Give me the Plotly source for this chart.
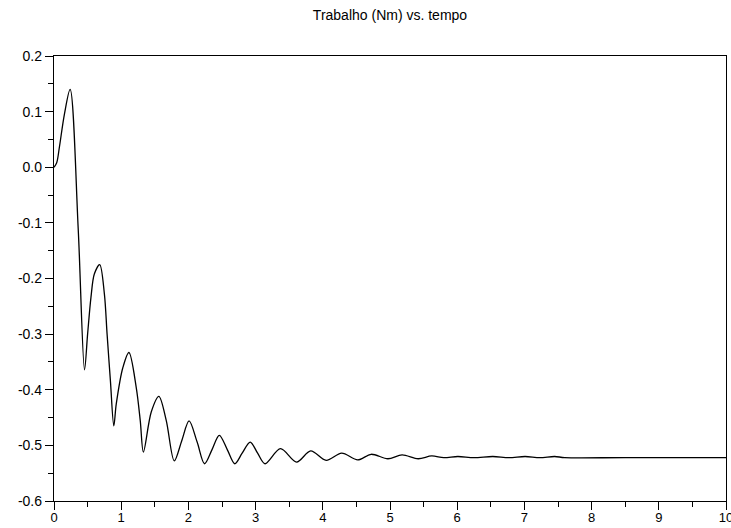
import plotly.graph_objects as go

# tempo (s) and trabalho (Nm)
tempo = [0.0, 0.04, 0.08, 0.156, 0.24, 0.36, 0.454,
         0.50, 0.55, 0.60, 0.68, 0.75, 0.79, 0.84, 0.89,
         0.926, 1.025, 1.115, 1.224, 1.284, 1.33,
         1.447, 1.56, 1.67, 1.79,
         1.90, 2.01, 2.13, 2.24,
         2.35, 2.46, 2.58, 2.69,
         2.80, 2.92, 3.03, 3.14,
         3.37, 3.61, 3.82, 4.05, 4.28, 4.52, 4.72, 4.97, 5.18, 5.42, 5.62,
         5.80, 6.01, 6.25, 6.53, 6.77, 7.01, 7.23, 7.45, 7.6, 8.5, 10.0]
trabalho = [0.0, 0.008, 0.036, 0.096, 0.140, -0.110, -0.364,
            -0.300, -0.234, -0.192, -0.175, -0.228, -0.300, -0.385, -0.465,
            -0.426, -0.360, -0.333, -0.396, -0.456, -0.512,
            -0.440, -0.412, -0.455, -0.528,
            -0.492, -0.456, -0.494, -0.533,
            -0.508, -0.482, -0.508, -0.533,
            -0.514, -0.494, -0.514, -0.533,
            -0.506, -0.530, -0.510, -0.527, -0.514, -0.526, -0.516, -0.524, -0.517, -0.524, -0.519,
            -0.522, -0.520, -0.522, -0.520, -0.522, -0.520, -0.522, -0.520, -0.522, -0.522, -0.522]

x_ticks = [0, 1, 2, 3, 4, 5, 6, 7, 8, 9, 10]
y_ticks = [0.2, 0.1, 0.0, -0.1, -0.2, -0.3, -0.4, -0.5, -0.6]
y_labels = ["0.2", "0.1", "0.0", "-0.1", "-0.2", "-0.3", "-0.4", "-0.5", "-0.6"]

fig = go.Figure()
fig.add_trace(go.Scatter(x=tempo, y=trabalho, mode="lines",
                         line=dict(color="black", width=1.3, shape="spline", smoothing=0.9),
                         showlegend=False, hoverinfo="x+y"))

font = "Liberation Sans, Arial, Helvetica, sans-serif"
fig.update_layout(
    width=731, height=528,
    margin=dict(l=54, r=5, t=56, b=27, autoexpand=False),
    paper_bgcolor="white", plot_bgcolor="white",
    title=dict(text="Trabalho (Nm) vs. tempo", x=0.5, xref="paper", xanchor="center",
               y=1 - 15 / 528, yref="container", yanchor="middle",
               font=dict(family=font, size=14, color="black")),
    font=dict(family=font, size=14, color="black"),
    xaxis=dict(range=[0, 10], tickvals=x_ticks, ticktext=[str(v) for v in x_ticks],
               showgrid=False, zeroline=False, showline=True, linecolor="black", linewidth=1.3,
               mirror=True, ticks="outside", ticklen=8, tickwidth=1.3, tickcolor="black",
               minor=dict(dtick=0.5, ticks="outside", ticklen=5, tickwidth=1.3, tickcolor="black"),
               ticklabeloverflow="allow", automargin=False, ticklabelstandoff=-4,
               tickfont=dict(size=13)),
    yaxis=dict(range=[-0.6, 0.2], tickvals=y_ticks, ticktext=y_labels,
               showgrid=False, zeroline=False, showline=True, linecolor="black", linewidth=1.3,
               mirror=True, ticks="outside", ticklen=8, tickwidth=1.3, tickcolor="black",
               minor=dict(dtick=0.05, tick0=0, ticks="outside", ticklen=5, tickwidth=1.3, tickcolor="black"),
               ticklabeloverflow="allow", automargin=False,
               tickfont=dict(size=14)),
)

fig.write_html("out.html")
